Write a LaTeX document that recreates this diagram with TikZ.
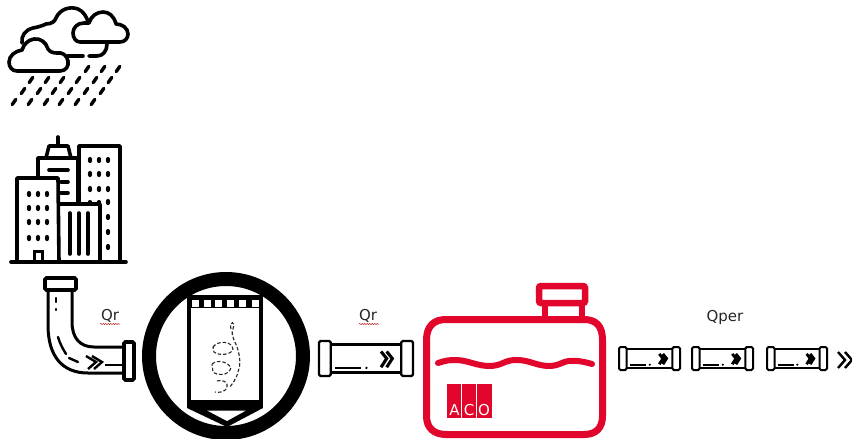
\documentclass[tikz,border=0pt]{standalone}
\usepackage{fontspec}
\setmainfont{DejaVu Sans}
\usetikzlibrary{decorations.pathmorphing}
\definecolor{acored}{HTML}{E2062C}
\tikzset{
  x=1pt,y=-1pt,
  icon/.style={draw=black,line width=3.6pt,line join=round,line cap=round},
  rain/.style={draw=black,line width=3.4pt,line cap=round},
  swirl/.style={draw=black!85,line width=1.1pt,dash pattern=on 3.5pt off 2pt},
  red icon/.style={draw=acored,line width=7pt,line join=round},
  flowlabel/.style={font=\fontsize{15}{17}\selectfont,inner sep=0pt,text=black!85},
  logoletter/.style={inner sep=0pt,text=white,font=\fontsize{15}{16}\selectfont},
  spell/.style={draw=red!70!black,line width=0.5pt,decorate,decoration={snake,amplitude=0.5pt,segment length=2.5pt}},
  flange/.style={draw=black,fill=white,rounded corners=1.5pt},
  pipelw/.initial=2.2pt,
  pics/straightpipe/.style args={#1/#2}{code={
    \pgfmathsetmacro{\fw}{#1*0.125}
    \pgfmathsetmacro{\tw}{#1}
    \pgfmathsetmacro{\th}{#2}
    \draw[line width=\pgfkeysvalueof{/tikz/pipelw}] (\fw,\th*0.1) -- (\tw-\fw,\th*0.1) (\fw,\th*0.9) -- (\tw-\fw,\th*0.9);
    \draw[flange,line width=\pgfkeysvalueof{/tikz/pipelw}] (0,0) rectangle (\fw,\th);
    \draw[flange,line width=\pgfkeysvalueof{/tikz/pipelw}] (\tw-\fw,0) rectangle (\tw,\th);
    \draw[line width=\pgfkeysvalueof{/tikz/pipelw}] (\fw+\tw*0.05,\th*0.77) -- (\fw+\tw*0.32,\th*0.77);
    \fill (\fw+\tw*0.38,\th*0.77) circle (\pgfkeysvalueof{/tikz/pipelw}*0.6);
    \draw[line width=\pgfkeysvalueof{/tikz/pipelw}*1.4,line join=miter]
      (\tw*0.66,\th*0.3) -- (\tw*0.72,\th*0.5) -- (\tw*0.66,\th*0.75)
      (\tw*0.72,\th*0.3) -- (\tw*0.78,\th*0.5) -- (\tw*0.72,\th*0.75);
  }},
}
\begin{document}
\begin{tikzpicture}
\useasboundingbox (0,0) rectangle (852,439);
\fill[white] (0,0) rectangle (852,439);

% ---- clouds
\draw[icon] (17,71) -- (60,71) .. controls (66,71) and (69,66) .. (68,61)
  .. controls (67,55) and (62,52) .. (57,53) .. controls (53,53) and (50,52) .. (48,49)
  .. controls (46,42) and (40,38) .. (34,39) .. controls (28,40) and (24,44) .. (22,50)
  .. controls (15,51) and (9,56) .. (9,62) .. controls (9,67) and (12,71) .. (17,71) -- cycle;
\draw[icon] (22,43) .. controls (21,36) and (25,30) .. (33,28) .. controls (38,27) and (42,26) .. (46,24)
  .. controls (52,24) and (55,21) .. (56,18) .. controls (60,9) and (70,6) .. (78,9) .. controls (83,11) and (87,17) .. (88,22);
\draw[icon] (80,42) -- (120,42) .. controls (125,42) and (128,38) .. (128,34)
  .. controls (128,28) and (122,24) .. (116,24) .. controls (114,16) and (109,12) .. (103,12)
  .. controls (97,12) and (91,16) .. (89,23) -- (84,23) .. controls (77,23) and (73,28) .. (73,33)
  .. controls (73,38) and (76,42) .. (80,42) -- cycle;
\draw[icon] (107,44) .. controls (107,51) and (103,56) .. (97,56) -- (89,56);
\draw[icon] (83,56) -- (68,56);
% rain
\foreach \px/\py in {87/69,103/69,118/69,
  31/80,47/80,62/80,78/80,95/80,110/80,
  23/91,39/91,54/91,70/91,86/91,102/91,
  14/102,30/102,46/102,61/102,77/102,93/102}
  \draw[rain] (\px-1.8,\py+2.6) -- (\px+1.8,\py-2.6);

% ---- buildings
\draw[icon] (11,262) -- (126,262);
\draw[icon] (58,137) -- (58,146);
\draw[icon] (46,158) -- (49,146) -- (68,146) -- (71,158);
\draw[icon] (38,178) -- (38,158) -- (78,158) -- (78,204);
\draw[icon] (79,204) -- (79,146) -- (120,146) -- (120,262);
\draw[icon] (17,262) -- (17,178) -- (58,178) -- (59,262);
\draw[icon] (59,204) -- (100,204) -- (100,262);
\draw[icon] (49,170) -- (68,170);
\draw[icon] (61,182) -- (68,182);
\draw[icon] (61,193) -- (68,193);
\draw[line width=3.6pt,line cap=round] (70,213) -- (70,254) (79,213) -- (79,254) (88,213) -- (88,254);
\draw[line width=3pt] (34,261) -- (34,251) -- (42,251) -- (42,261);
\foreach \wx in {29,38,47}
  \foreach \wy in {194,208,222,238}
    \fill (\wx,\wy) ellipse (2.2 and 3.2);
\foreach \wx in {90,99,108}
  \foreach \wy in {160,174,189}
    \fill (\wx,\wy) ellipse (2.2 and 3.2);
\foreach \wy in {202,217,232,247}
  \fill (108,\wy) ellipse (2.2 and 3.2);
\fill (90,202) ellipse (2.2 and 2);
\fill (99,202) ellipse (2.2 and 2);

% ---- bent pipe
\draw[icon,line width=3pt] (48,290) -- (48,325) .. controls (48,356) and (62,373) .. (88,373) -- (124,373);
\draw[icon,line width=3pt] (72,290) -- (72,322) .. controls (72,338) and (80,347) .. (94,347) -- (124,347);
\draw[flange,line width=3.6pt] (45,278) rectangle (76,290);
\draw[flange,line width=3.6pt] (124,342) rectangle (134,380);
\draw[line width=2.4pt,line cap=round] (56,298) -- (56,302);
\draw[line width=2.4pt,line cap=round] (56,309) -- (56,310);
\draw[line width=2.4pt,line cap=round] (58,337) .. controls (60,344) and (63,349) .. (66,354);
\draw[line width=2.4pt,line cap=round] (69,358) -- (78,362);
\draw[line width=2.4pt] (86,356) -- (96,362) -- (88,369) (92,356) -- (102,362) -- (94,369);
\draw[line width=2.8pt] (105,365) -- (124,365);

% ---- filter in circle
\draw[line width=14pt] (226,356) circle (77);
\fill (187,295) rectangle (263,308);
\foreach \sq in {192,204,215,227,239,252}
  \fill[white] (\sq,299.5) rectangle (\sq+6.5,307);
\draw[line width=3.5pt] (189,308) -- (189,402) (261,308) -- (261,402);
\fill (187,400) rectangle (263,408);
\fill (187,408) -- (263,408) -- (227,427) -- cycle;
\fill[white] (207,410.5) -- (246,410.5) -- (227,421) -- cycle;
\draw[swirl] (231,329) .. controls (229,321) and (236,320) .. (233,329) .. controls (230,336) and (236,342) .. (238,350)
  .. controls (240,358) and (241,365) .. (238,372) .. controls (236,380) and (232,384) .. (229,388);
\draw[swirl] (213,347) .. controls (218,340) and (232,341) .. (233,349) .. controls (232,355) and (218,356) .. (214,352) -- cycle;
\draw[swirl] (212,364) .. controls (218,359) and (228,362) .. (231,368) .. controls (228,376) and (218,376) .. (213,372) -- cycle;
\draw[swirl] (217,381) .. controls (222,379) and (229,382) .. (227,388) .. controls (225,392) and (218,393) .. (215,392);

% ---- straight pipe
\path (319,341) pic {straightpipe=94/35};

% ---- tank
\draw[red icon] (426.5,340) .. controls (426.5,326) and (434,319.5) .. (446,319.5) -- (584,319.5)
  .. controls (596,319.5) and (602.5,326) .. (602.5,340) -- (602.5,416)
  .. controls (602.5,428) and (596,434.5) .. (584,434.5) -- (446,434.5)
  .. controls (434,434.5) and (426.5,428) .. (426.5,416) -- cycle;
\draw[draw=acored,line width=6.5pt] (545,305) -- (545,316) (582,305) -- (582,316);
\draw[draw=acored,line width=6.5pt,rounded corners=2pt] (539,286) rectangle (585,303);
\draw[draw=acored,line width=6pt,line cap=round] (438,363)
  .. controls (452,358) and (462,360) .. (472,363) .. controls (486,367) and (494,367) .. (503,363)
  .. controls (513,358) and (524,360) .. (533,363) .. controls (546,367) and (553,367) .. (562,363)
  .. controls (570,359) and (582,361) .. (592,364);
\fill[acored] (447,384) rectangle (492,418);
\draw[white,line width=0.8pt] (461.5,384) -- (461.5,418) (476.5,384) -- (476.5,418);
\node[logoletter] (acoA) at (454.5,410) {A};
\node[logoletter] (acoC) at (469,410) {C};
\node[logoletter] (acoO) at (484,410) {O};

% ---- small pipes
\tikzset{pipelw=2pt}
\path (619,347) pic {straightpipe=61/23};
\path (692,347) pic {straightpipe=61/23};
\path (767,347) pic {straightpipe=60/23};
\draw[line width=2.4pt,line join=miter] (838,352) -- (845,360) -- (838,368) (845,352) -- (852,360) -- (845,368);

% ---- labels
\node[flowlabel] (qr1) at (110,316) {Qr};
\node[flowlabel] (qr2) at (368,316) {Qr};
\node[flowlabel] (qper) at (725,317) {Qper};
\draw[spell] (100,324) -- (120,324);
\draw[spell] (359,324) -- (379,324);
\end{tikzpicture}
\end{document}
